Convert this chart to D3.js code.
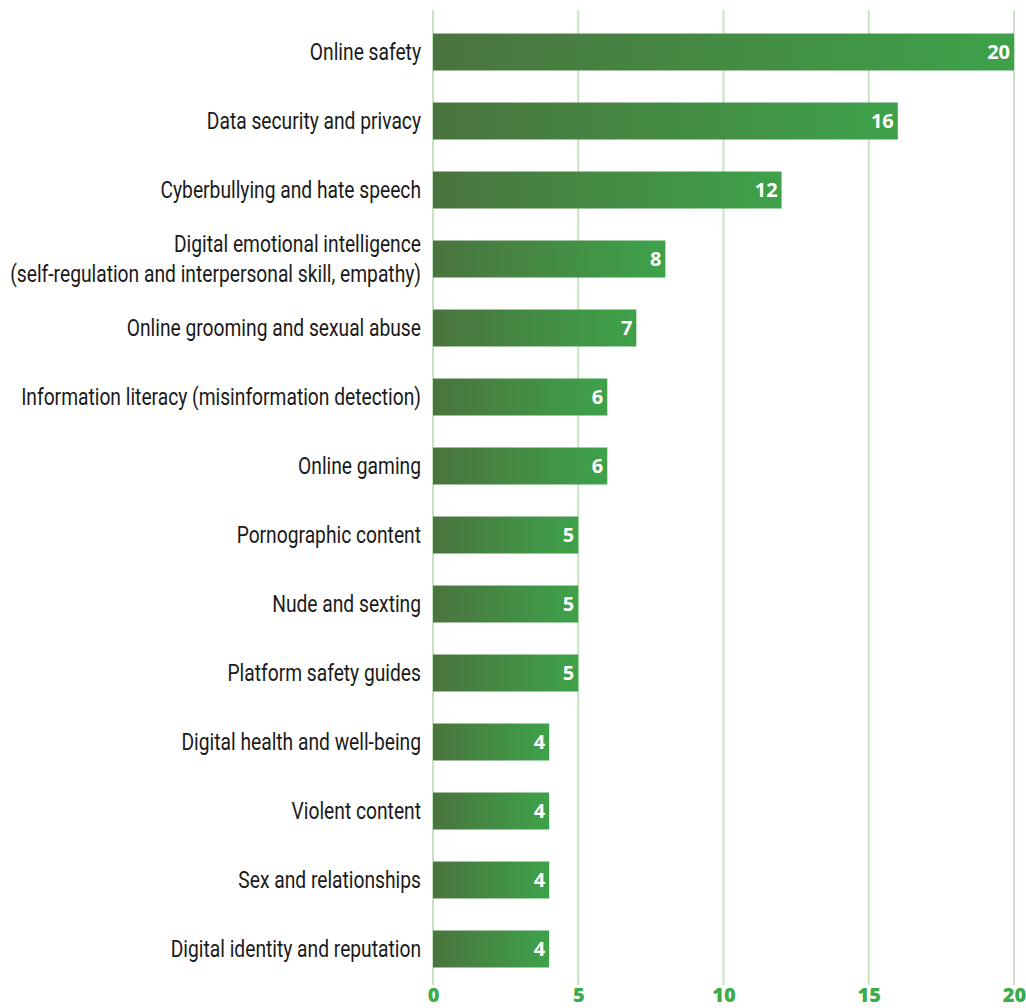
<!DOCTYPE html>
<meta charset="utf-8">
<style>
  body { margin: 0; background: #fff; }
  .cat { font-family: "Roboto", "DejaVu Sans", sans-serif; font-size: 23px; fill: #1a1a1a; }
  .val { font-family: "Open Sans", "DejaVu Sans", sans-serif; font-weight: 700; font-size: 20px; fill: #fff; }
  .tick text { font-family: "Open Sans", "DejaVu Sans", sans-serif; font-weight: 800; font-size: 20px; fill: #3dab4a; }
</style>
<body>
<script src="https://cdn.jsdelivr.net/npm/d3@7"></script>
<script>
var categories = [
  ["Online safety"],
  ["Data security and privacy"],
  ["Cyberbullying and hate speech"],
  ["Digital emotional intelligence", "(self-regulation and interpersonal skill, empathy)"],
  ["Online grooming and sexual abuse"],
  ["Information literacy (misinformation detection)"],
  ["Online gaming"],
  ["Pornographic content"],
  ["Nude and sexting"],
  ["Platform safety guides"],
  ["Digital health and well-being"],
  ["Violent content"],
  ["Sex and relationships"],
  ["Digital identity and reputation"]
];
var values = [20, 16, 12, 8, 7, 6, 6, 5, 5, 5, 4, 4, 4, 4];
var ticks = [0, 5, 10, 15, 20];

var width = 1026, height = 1008;

var svg = d3.select("body").append("svg")
    .attr("width", width)
    .attr("height", height);

var defs = svg.append("defs");
var grad = defs.append("linearGradient")
    .attr("id", "barGrad")
    .attr("x1", "0%").attr("x2", "100%")
    .attr("y1", "0%").attr("y2", "0%");
grad.append("stop").attr("offset", "0%").attr("stop-color", "#4a743d");
grad.append("stop").attr("offset", "100%").attr("stop-color", "#3ea24a");

var x = d3.scaleLinear()
    .domain([0, 20])
    .range([433, 1014]);

var y = d3.scaleBand()
    .domain(d3.range(categories.length))
    .range([17.5, 983.5])
    .paddingInner(0.464)
    .paddingOuter(0.232);

// grid lines
svg.append("g")
  .selectAll("line")
  .data(ticks)
  .enter().append("line")
    .attr("x1", function(d) { return x(d); })
    .attr("x2", function(d) { return x(d); })
    .attr("y1", 10)
    .attr("y2", 985)
    .style("stroke", "#c6e4c1")
    .style("stroke-width", 2);

// bars
svg.append("g")
  .selectAll("rect")
  .data(values)
  .enter().append("rect")
    .attr("x", x(0))
    .attr("y", function(d, i) { return y(i); })
    .attr("width", function(d) { return x(d) - x(0); })
    .attr("height", y.bandwidth())
    .attr("fill", "url(#barGrad)");

// value labels
svg.append("g")
  .selectAll("text")
  .data(values)
  .enter().append("text")
    .attr("class", "val")
    .attr("x", function(d) { return x(d) - 4; })
    .attr("y", function(d, i) { return y(i) + y.bandwidth() / 2 + 7; })
    .attr("text-anchor", "end")
    .text(function(d) { return d; });

// category labels (condensed by a horizontal squeeze)
var lab = svg.append("g")
  .selectAll("text")
  .data(categories)
  .enter().append("text")
    .attr("class", "cat")
    .attr("text-anchor", "end");

lab.selectAll("tspan")
  .data(function(d) { return d; })
  .enter().append("tspan")
    .attr("x", 0)
    .attr("dy", function(d, j) { return j === 0 ? 0 : 30; })
    .text(function(d) { return d; });

var longest = 0;
lab.each(function() {
  d3.select(this).selectAll("tspan").each(function() {
    longest = Math.max(longest, this.getComputedTextLength());
  });
});
var k = 411 / longest;

lab.attr("transform", function(d, i) {
  var c = y(i) + y.bandwidth() / 2 + 8 - (d.length - 1) * 15;
  return "translate(421," + c + ") scale(" + k + ",1)";
});

// x axis
var gx = svg.append("g")
    .attr("transform", "translate(0,986)")
    .call(d3.axisBottom(x).tickValues(ticks).tickSize(0).tickPadding(2));
gx.select(".domain").remove();
</script>
</body>
